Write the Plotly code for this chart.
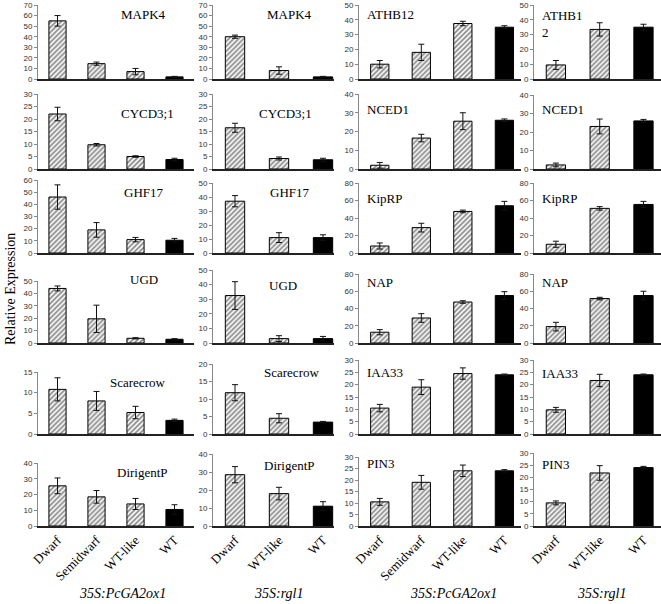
import plotly.graph_objects as go

W, H = 661, 604

# ---------------- data ----------------
categories_pc = ["Dwarf", "Semidwarf", "WT-like", "WT"]
categories_rgl = ["Dwarf", "WT-like", "WT"]

genes_left = ["MAPK4", "CYCD3;1", "GHF17", "UGD", "Scarecrow", "DirigentP"]
genes_right = ["ATHB12", "NCED1", "KipRP", "NAP", "IAA33", "PIN3"]
genes_right_rgl = ["ATHB1<br>2", "NCED1", "KipRP", "NAP", "IAA33", "PIN3"]

# column 1: 35S:PcGA2ox1, left genes
pc_left_values = [[55, 14.5, 7, 2], [22, 9.7, 5, 3.8], [46, 19, 11, 10.5],
                  [44, 19.5, 3.8, 3], [10.8, 8, 5.2, 3.3], [25.5, 18.5, 14, 10.5]]
pc_left_errors = [[5, 1.5, 3, 0.5], [2.7, 0.5, 0.3, 0.5], [10, 6, 1.8, 1.5],
                  [2, 11, 0.5, 0.5], [2.8, 2.3, 1.5, 0.3], [5, 4, 3.5, 3]]
# column 2: 35S:rgl1, left genes
rgl_left_values = [[40, 8, 2], [16.5, 4.2, 3.7], [37, 11, 11],
                   [32.5, 3, 3], [11.8, 4.5, 3.4], [28.5, 18, 11]]
rgl_left_errors = [[1.5, 3.5, 0.5], [1.8, 0.6, 0.6], [4, 3.5, 2],
                   [9.5, 2, 1.5], [2.3, 1.3, 0.2], [4.5, 3.5, 2.5]]
# column 3: 35S:PcGA2ox1, right genes
pc_right_values = [[10, 18, 37.5, 35], [2, 16.5, 25.5, 26], [8, 29, 47.5, 54],
                   [12.5, 29, 47.5, 55], [10.5, 19, 24.5, 24], [10.5, 19, 24, 24]]
pc_right_errors = [[2.5, 5.5, 1.5, 1], [1.5, 2, 4.5, 0.7], [3.5, 5, 1.5, 5],
                   [3, 5, 1.5, 4.5], [1.5, 3, 2.3, 0.3], [1.5, 3, 2.5, 0.5]]
# column 4: 35S:rgl1, right genes
rgl_right_values = [[9.5, 33.5, 35], [2.2, 23, 26], [10, 51, 55.5],
                    [19, 51.5, 55], [9.8, 21.7, 24], [9.5, 21.8, 24]]
rgl_right_errors = [[3, 4.5, 2], [1, 4, 0.8], [3.5, 2, 3.5],
                    [5, 1.5, 5], [1, 2.5, 0.3], [0.8, 3, 0.5]]

# y axis maxima / steps per column (rows 1..6)
ymax = [[70, 30, 60, 50, 15, 40], [70, 30, 50, 50, 20, 40],
        [50, 40, 80, 80, 30, 30], [50, 40, 80, 80, 30, 30]]
ydtick = [[10, 5, 10, 10, 5, 10], [10, 5, 10, 10, 5, 10],
          [10, 10, 20, 20, 5, 5], [10, 10, 20, 20, 5, 5]]

group_labels = ["35S:PcGA2ox1", "35S:rgl1", "35S:PcGA2ox1", "35S:rgl1"]

# ---------------- layout geometry (pixels) ----------------
col_x = [(38, 194), (213, 334), (359, 521), (534, 661)]
col_range = [(-0.5, 3.5), (-0.5, 2.25), (-0.5, 3.4), (-0.5, 2.4)]
row_bottom = [79, 169, 253, 343, 434, 526]
top_px = [[5, 94, 180, 281, 372, 463], [5, 94, 183, 270, 364, 454],
          [5, 94, 183, 274, 360, 457], [5, 95, 183, 274, 360, 453]]
label_pos = [[(119, 15), (119, 113), (122, 192), (128, 280), (108, 382), (115, 473)],
             [(265, 15), (257, 113), (268, 192), (267, 285), (262, 372), (262, 465)],
             [(365, 15), (365, 110), (365, 198), (365, 282), (365, 372), (365, 463)],
             [(540, 24), (540, 110), (540, 198), (540, 282), (540, 373), (540, 464)]]

columns = [
    (categories_pc, genes_left, pc_left_values, pc_left_errors),
    (categories_rgl, genes_left, rgl_left_values, rgl_left_errors),
    (categories_pc, genes_right, pc_right_values, pc_right_errors),
    (categories_rgl, genes_right_rgl, rgl_right_values, rgl_right_errors),
]

fig = go.Figure()
layout = {}
annotations = []

serif = "Liberation Serif, Times New Roman, serif"
sans = "Liberation Sans, Arial, sans-serif"

idx = 0
for c, (cats, genes, vals, errs) in enumerate(columns):
    for r in range(6):
        idx += 1
        xa = "x" if idx == 1 else f"x{idx}"
        ya = "y" if idx == 1 else f"y{idx}"
        v = vals[r]
        e = errs[r]
        # hatched bars (all but WT)
        fig.add_trace(go.Bar(
            x=cats[:-1], y=v[:-1],
            error_y=dict(type="data", array=e[:-1], color="#111", thickness=1, width=3),
            marker=dict(color="white", line=dict(color="black", width=1),
                        pattern=dict(shape="/", fgcolor="#111", bgcolor="white",
                                     size=3.5, solidity=0.5)),
            width=0.44, xaxis=xa, yaxis=ya, showlegend=False))
        # WT bar (black)
        fig.add_trace(go.Bar(
            x=cats[-1:], y=v[-1:],
            error_y=dict(type="data", array=e[-1:], color="#111", thickness=1, width=3),
            marker=dict(color="black", line=dict(color="black", width=1)),
            width=0.44, xaxis=xa, yaxis=ya, showlegend=False))

        x0, x1 = col_x[c]
        yb = row_bottom[r]
        yt = top_px[c][r]
        bottom_row = (r == 5)
        layout["xaxis" if idx == 1 else f"xaxis{idx}"] = dict(
            domain=[x0 / W, x1 / W], anchor=ya, type="category",
            categoryorder="array", categoryarray=cats,
            range=list(col_range[c]),
            showline=True, linecolor="#222", linewidth=1.5,
            showgrid=False, zeroline=False, ticks="",
            showticklabels=bottom_row, tickangle=-45,
            tickfont=dict(family=serif, size=13, color="black"),
            fixedrange=True)
        layout["yaxis" if idx == 1 else f"yaxis{idx}"] = dict(
            domain=[1 - yb / H, 1 - yt / H], anchor=xa,
            range=[0, ymax[c][r]], dtick=ydtick[c][r],
            showline=True, linecolor="#888", linewidth=1,
            ticks="outside", ticklen=3, tickcolor="#888",
            showgrid=False, zeroline=False,
            tickfont=dict(family=sans, size=8, color="#333"),
            fixedrange=True)
        lx, ly = label_pos[c][r]
        annotations.append(dict(
            text=genes[r], x=lx / W, y=1 - ly / H, xref="paper", yref="paper",
            xanchor="left", yanchor="middle", showarrow=False, align="left",
            font=dict(family=serif, size=13, color="black")))

# group labels below
group_x = [122, 278, 453, 601]
for gx, gl in zip(group_x, group_labels):
    annotations.append(dict(
        text=f"<i>{gl}</i>", x=gx / W, y=1 - 593 / H, xref="paper", yref="paper",
        xanchor="center", yanchor="middle", showarrow=False,
        font=dict(family=serif, size=14, color="black")))

annotations.append(dict(
    text="Relative Expression", x=11 / W, y=1 - 289 / H, xref="paper", yref="paper",
    xanchor="center", yanchor="middle", showarrow=False, textangle=-90,
    font=dict(family=serif, size=14, color="black")))

fig.update_layout(
    width=W, height=H,
    margin=dict(l=0, r=0, t=0, b=0, autoexpand=False),
    paper_bgcolor="white", plot_bgcolor="white",
    barmode="overlay",
    annotations=annotations,
    **layout)

fig.write_html("out.html",
               config={"displayModeBar": False, "staticPlot": True},
               post_script="document.body.style.margin='0px';document.body.style.overflow='hidden';")
